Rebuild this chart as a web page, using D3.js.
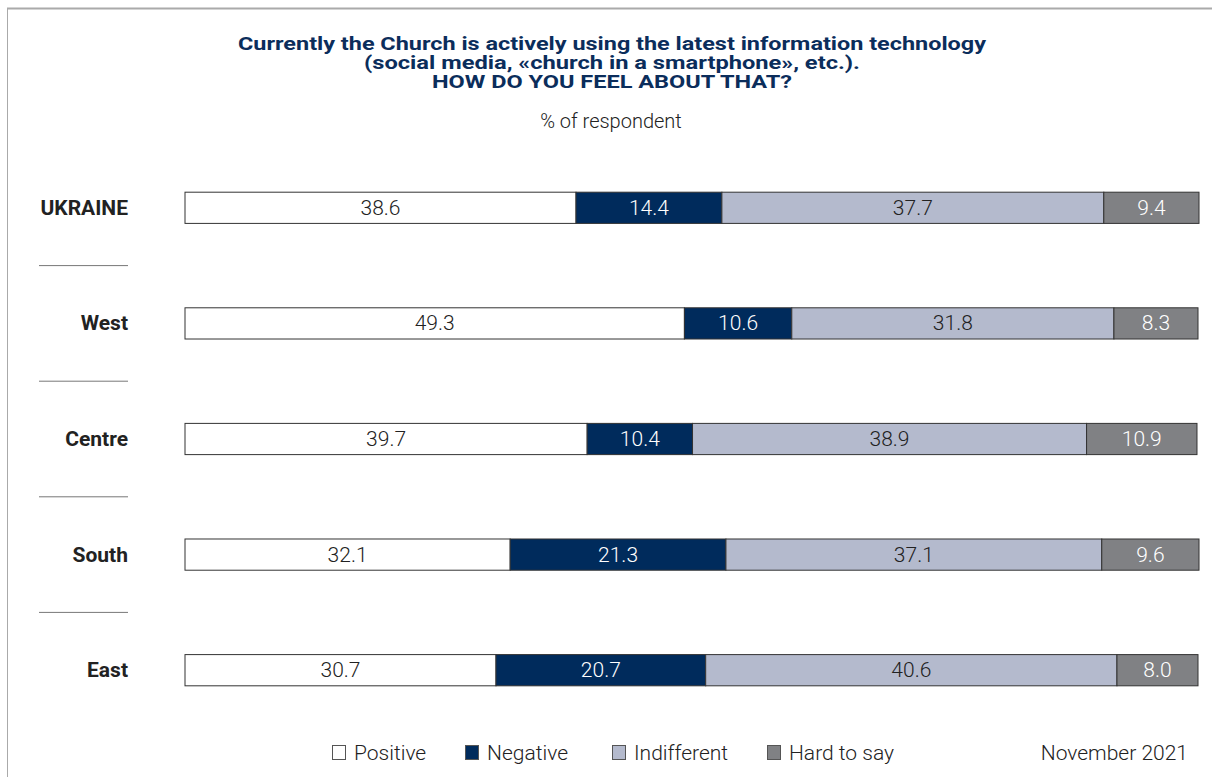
<!DOCTYPE html>
<html>
<head>
<meta charset="utf-8">
<script src="https://d3js.org/d3.v7.min.js"></script>
<style>
  body { margin: 0; background: #fff; }
  svg text { font-family: "Roboto", "Liberation Sans", sans-serif; }
</style>
</head>
<body>
<svg id="chart" width="1212" height="777"></svg>
<script>
const regions = ['UKRAINE', 'West', 'Centre', 'South', 'East'];
const seriesNames = ['Positive', 'Negative', 'Indifferent', 'Hard to say'];
const positive = [38.6, 49.3, 39.7, 32.1, 30.7];
const negative = [14.4, 10.6, 10.4, 21.3, 20.7];
const indifferent = [37.7, 31.8, 38.9, 37.1, 40.6];
const hardToSay = [9.4, 8.3, 10.9, 9.6, 8.0];
const colors = ['#ffffff', '#002b5c', '#b4bacd', '#808184'];
const textColors = ['#222', '#fff', '#222', '#fff'];

const svg = d3.select('#chart');

// frame
svg.append('line').attr('x1', 7).attr('x2', 1212).attr('y1', 8.5).attr('y2', 8.5)
    .attr('stroke', '#aaa').attr('stroke-width', 2);
svg.append('line').attr('x1', 7.5).attr('x2', 7.5).attr('y1', 8).attr('y2', 777)
    .attr('stroke', '#aaa').attr('stroke-width', 1);

// title (condensed look: stretched to the reference widths)
const title = ['Currently the Church is actively using the latest information technology',
    '(social media, «church in a smartphone», etc.).',
    'HOW DO YOU FEEL ABOUT THAT?'];
const titleWidths = [748, 496, 360];
svg.selectAll('.title').data(title).enter().append('text')
    .attr('x', 612).attr('y', (d, i) => 50 + i * 19)
    .attr('text-anchor', 'middle')
    .attr('font-size', 18).attr('font-weight', 'bold').attr('fill', '#0b2d5b')
    .attr('textLength', (d, i) => titleWidths[i]).attr('lengthAdjust', 'spacingAndGlyphs')
    .text(d => d);
svg.append('text').attr('x', 611).attr('y', 128).attr('text-anchor', 'middle')
    .attr('font-size', 20).attr('font-weight', 300).attr('fill', '#222').text('% of respondent');

const x = d3.scaleLinear().domain([0, 100]).range([185, 1198]);
const y = d3.scaleBand().domain(regions).range([150, 728]).paddingInner(0.73).paddingOuter(0.365);

const rows = regions.map((r, i) => ({ region: r, values: [positive[i], negative[i], indifferent[i], hardToSay[i]] }));

const row = svg.selectAll('.row').data(rows).enter().append('g');

row.each(function (d) {
    const g = d3.select(this);
    let acc = 0;
    d.values.forEach((v, k) => {
        const x0 = x(acc), x1 = x(acc + v);
        acc += v;
        g.append('rect').attr('x', x0).attr('y', y(d.region))
            .attr('width', x1 - x0).attr('height', y.bandwidth())
            .attr('fill', colors[k]).attr('stroke', '#333').attr('stroke-width', 1);
        g.append('text').attr('x', (x0 + x1) / 2).attr('y', y(d.region) + y.bandwidth() / 2 + 7)
            .attr('text-anchor', 'middle').attr('font-size', 21).attr('font-weight', 300)
            .attr('fill', textColors[k]).text(v.toFixed(1));
    });
    g.append('text').attr('x', 128).attr('y', y(d.region) + y.bandwidth() / 2 + 7)
        .attr('text-anchor', 'end').attr('font-size', 21).attr('font-weight', 'bold')
        .attr('fill', '#222').text(d.region);
});

// separators between rows
svg.selectAll('.sep').data(regions.slice(1)).enter().append('line')
    .attr('x1', 39).attr('x2', 128)
    .attr('y1', d => y(d) - y.step() * y.paddingInner() / 2)
    .attr('y2', d => y(d) - y.step() * y.paddingInner() / 2)
    .attr('stroke', '#777').attr('stroke-width', 1);

// legend
const legendX = [332, 465, 612, 767];
const lg = svg.selectAll('.lg').data(seriesNames).enter().append('g')
    .attr('transform', (d, i) => `translate(${legendX[i]},745)`);
lg.append('rect').attr('x', 0.5).attr('y', 0.5).attr('width', 13).attr('height', 14)
    .attr('fill', (d, i) => colors[i]).attr('stroke', '#555');
lg.append('text').attr('x', 22).attr('y', 15).attr('font-size', 21).attr('font-weight', 300)
    .attr('fill', '#222').text(d => d);

svg.append('text').attr('x', 1188).attr('y', 760).attr('text-anchor', 'end')
    .attr('font-size', 21).attr('font-weight', 300).attr('fill', '#222').text('November 2021');
</script>
</body>
</html>
